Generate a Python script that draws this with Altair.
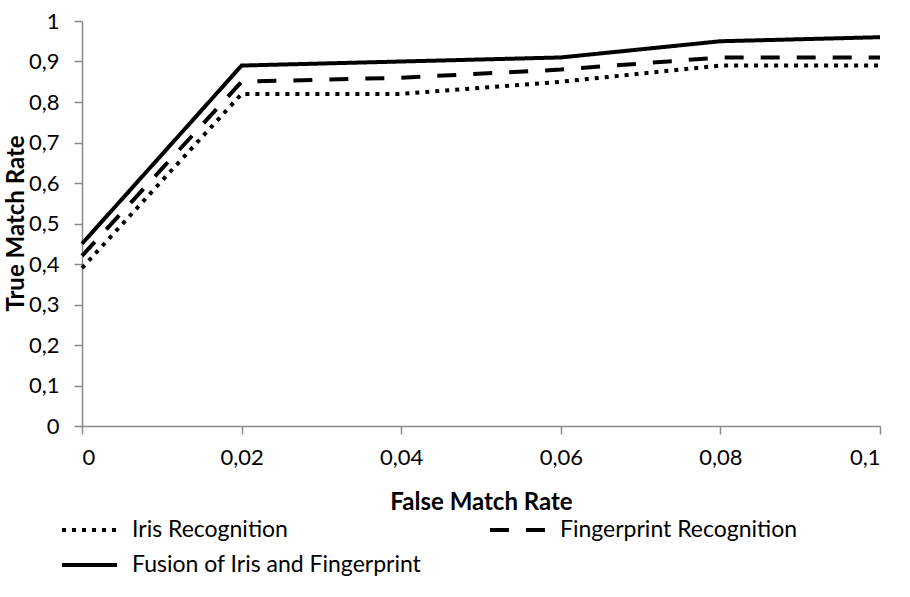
import altair as alt
import pandas as pd

# False match rate (x) and true match rate (y) for each method
fmr = [0, 0.02, 0.04, 0.06, 0.08, 0.1]
iris = [0.39, 0.82, 0.82, 0.85, 0.89, 0.89]
finger = [0.42, 0.85, 0.86, 0.88, 0.91, 0.91]
fusion = [0.45, 0.89, 0.90, 0.91, 0.95, 0.96]
y_ticks = [0, 0.1, 0.2, 0.3, 0.4, 0.5, 0.6, 0.7, 0.8, 0.9, 1]

series = ["Iris Recognition", "Fingerprint Recognition", "Fusion of Iris and Fingerprint"]
dashes = [[4, 6], [19, 17], [1, 0]]

rows = []
for name, vals in zip(series, [iris, finger, fusion]):
    for x, y in zip(fmr, vals):
        rows.append({"fmr": x, "tmr": y, "method": name})
df = pd.DataFrame(rows)

FONT = "Lato"
GREY = "#8a8a8a"

chart = (
    alt.Chart(df)
    .mark_line(color="black", strokeWidth=4)
    .encode(
        x=alt.X(
            "fmr:Q",
            title="False Match Rate",
            scale=alt.Scale(domain=[0, 0.1], nice=False, zero=True),
            axis=alt.Axis(
                values=fmr,
                labelExpr="replace(format(datum.value, '.2~f'), '.', ',')",
                grid=False,
                tickSize=8,
                labelPadding=13,
                titleY=76,
                titleBaseline="middle",
            ),
        ),
        y=alt.Y(
            "tmr:Q",
            title="True Match Rate",
            scale=alt.Scale(domain=[0, 1], nice=False),
            axis=alt.Axis(
                values=y_ticks,
                labelExpr="replace(format(datum.value, '.1~f'), '.', ',')",
                grid=False,
                tickSize=8,
                labelPadding=15,
                titleX=-66,
                titleY=202,
                titleAlign="center",
                titleBaseline="middle",
            ),
        ),
        strokeDash=alt.StrokeDash(
            "method:N",
            scale=alt.Scale(domain=series, range=dashes),
            legend=alt.Legend(
                title=None,
                orient="none",
                direction="horizontal",
                legendX=-22,
                legendY=497,
                columns=2,
                columnPadding=66,
                rowPadding=11,
                clipHeight=24,
                symbolType="stroke",
                symbolSize=3025,
                symbolStrokeWidth=4,
                symbolStrokeColor="black",
                labelFont=FONT,
                labelFontSize=23,
                labelColor="black",
                labelOffset=13,
                labelLimit=400,
            ),
        ),
    )
    .properties(
        width=798,
        height=405,
        autosize="none",
        padding={"left": 82, "top": 21, "right": 30, "bottom": 171},
    )
    .configure_view(stroke=None)
    .configure_axis(
        domainColor=GREY,
        domainWidth=1.5,
        tickColor=GREY,
        tickWidth=1.5,
        labelFont=FONT,
        labelFontSize=22,
        labelColor="black",
        titleFont=FONT,
        titleFontSize=24,
        titleFontWeight="bold",
        titleColor="black",
    )
)

chart.save("out.html", embed_options={"renderer": "svg", "actions": False})
